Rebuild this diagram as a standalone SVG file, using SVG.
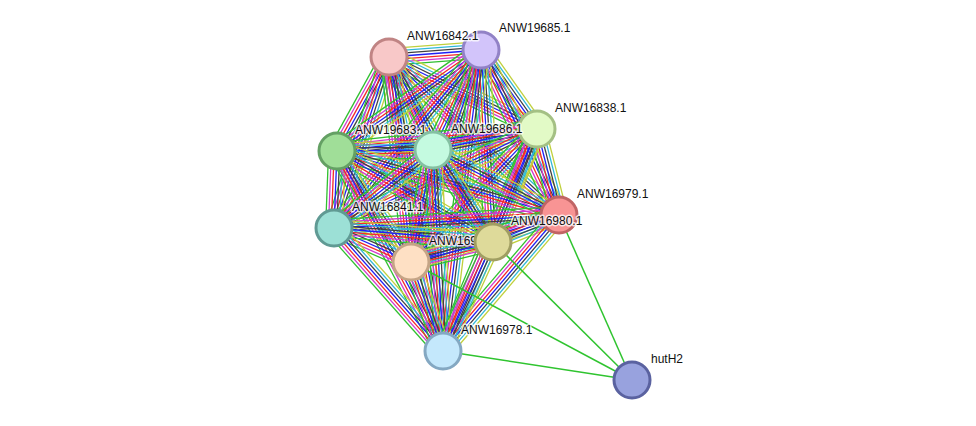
<svg xmlns="http://www.w3.org/2000/svg" xmlns:xlink="http://www.w3.org/1999/xlink" width="976" height="426" viewBox="0 0 976 426">
<style>
.b line{vector-effect:non-scaling-stroke;stroke-width:1.3;fill:none}
.k{stroke:#2fc42f;stroke-width:1.5;fill:none}
.n circle{stroke-width:3}
.n text{font-family:"Liberation Sans",Arial,sans-serif;font-size:12px;fill:#111;stroke:rgba(255,255,255,0.75);stroke-width:3;paint-order:stroke;stroke-linejoin:round}
</style>
<defs>
<g id="bundle" class="b">
<line x1="0" y1="-8.4" x2="1" y2="-8.4" stroke="#c0d03c"/>
<line x1="0" y1="-5.6" x2="1" y2="-5.6" stroke="#30b8d8"/>
<line x1="0" y1="-2.8" x2="1" y2="-2.8" stroke="#404040"/>
<line x1="0" y1="0" x2="1" y2="0" stroke="#2020f4"/>
<line x1="0" y1="2.8" x2="1" y2="2.8" stroke="#f42828"/>
<line x1="0" y1="5.6" x2="1" y2="5.6" stroke="#d038d0"/>
<line x1="0" y1="8.4" x2="1" y2="8.4" stroke="#30c030"/>
</g>
</defs>
<rect width="976" height="426" fill="#fff"/>
<g id="edges">
<use xlink:href="#bundle" transform="translate(389 57) rotate(-4.35) scale(92.27 1)"/>
<use xlink:href="#bundle" transform="translate(389 57) rotate(25.94) scale(164.6 1)"/>
<use xlink:href="#bundle" transform="translate(389 57) rotate(118.95) scale(107.4 1)"/>
<use xlink:href="#bundle" transform="translate(389 57) rotate(64.68) scale(102.9 1)"/>
<use xlink:href="#bundle" transform="translate(389 57) rotate(42.91) scale(232.1 1)"/>
<use xlink:href="#bundle" transform="translate(389 57) rotate(107.83) scale(179.6 1)"/>
<use xlink:href="#bundle" transform="translate(389 57) rotate(83.87) scale(206.2 1)"/>
<use xlink:href="#bundle" transform="translate(389 57) rotate(60.65) scale(212.2 1)"/>
<use xlink:href="#bundle" transform="translate(389 57) rotate(79.59) scale(298.9 1)"/>
<use xlink:href="#bundle" transform="translate(481 50) rotate(54.67) scale(96.8 1)"/>
<use xlink:href="#bundle" transform="translate(481 50) rotate(144.96) scale(175.9 1)"/>
<use xlink:href="#bundle" transform="translate(481 50) rotate(115.64) scale(110.9 1)"/>
<use xlink:href="#bundle" transform="translate(481 50) rotate(64.70) scale(182.5 1)"/>
<use xlink:href="#bundle" transform="translate(481 50) rotate(129.56) scale(230.9 1)"/>
<use xlink:href="#bundle" transform="translate(481 50) rotate(108.28) scale(223.3 1)"/>
<use xlink:href="#bundle" transform="translate(481 50) rotate(86.42) scale(192.4 1)"/>
<use xlink:href="#bundle" transform="translate(481 50) rotate(97.20) scale(303.4 1)"/>
<use xlink:href="#bundle" transform="translate(537 129) rotate(173.72) scale(201.2 1)"/>
<use xlink:href="#bundle" transform="translate(537 129) rotate(168.58) scale(106.1 1)"/>
<use xlink:href="#bundle" transform="translate(537 129) rotate(75.65) scale(88.8 1)"/>
<use xlink:href="#bundle" transform="translate(537 129) rotate(154.00) scale(225.9 1)"/>
<use xlink:href="#bundle" transform="translate(537 129) rotate(133.45) scale(183.2 1)"/>
<use xlink:href="#bundle" transform="translate(537 129) rotate(111.27) scale(121.3 1)"/>
<use xlink:href="#bundle" transform="translate(537 129) rotate(112.95) scale(241.1 1)"/>
<use xlink:href="#bundle" transform="translate(337 151) rotate(-0.60) scale(96 1)"/>
<use xlink:href="#bundle" transform="translate(337 151) rotate(16.08) scale(231 1)"/>
<use xlink:href="#bundle" transform="translate(337 151) rotate(92.23) scale(77.06 1)"/>
<use xlink:href="#bundle" transform="translate(337 151) rotate(56.31) scale(133.4 1)"/>
<use xlink:href="#bundle" transform="translate(337 151) rotate(30.26) scale(180.6 1)"/>
<use xlink:href="#bundle" transform="translate(337 151) rotate(62.08) scale(226.4 1)"/>
<use xlink:href="#bundle" transform="translate(433 150) rotate(27.29) scale(141.8 1)"/>
<use xlink:href="#bundle" transform="translate(433 150) rotate(141.77) scale(126 1)"/>
<use xlink:href="#bundle" transform="translate(433 150) rotate(101.11) scale(114.1 1)"/>
<use xlink:href="#bundle" transform="translate(433 150) rotate(56.89) scale(109.8 1)"/>
<use xlink:href="#bundle" transform="translate(433 150) rotate(87.15) scale(201.2 1)"/>
<use xlink:href="#bundle" transform="translate(559 215) rotate(176.69) scale(225.4 1)"/>
<use xlink:href="#bundle" transform="translate(559 215) rotate(162.38) scale(155.3 1)"/>
<use xlink:href="#bundle" transform="translate(559 215) rotate(157.75) scale(71.3 1)"/>
<use xlink:href="#bundle" transform="translate(559 215) rotate(130.46) scale(178.8 1)"/>
<use xlink:href="#bundle" transform="translate(334 228) rotate(23.83) scale(84.2 1)"/>
<use xlink:href="#bundle" transform="translate(334 228) rotate(5.03) scale(159.6 1)"/>
<use xlink:href="#bundle" transform="translate(334 228) rotate(48.45) scale(164.3 1)"/>
<use xlink:href="#bundle" transform="translate(411 262) rotate(-13.71) scale(84.4 1)"/>
<use xlink:href="#bundle" transform="translate(411 262) rotate(70.22) scale(94.6 1)"/>
<use xlink:href="#bundle" transform="translate(493 242) rotate(114.64) scale(119.9 1)"/>
<line class="k" x1="443" y1="351" x2="632" y2="380"/>
<line class="k" x1="411" y1="262" x2="632" y2="380"/>
<line class="k" x1="493" y1="242" x2="632" y2="380"/>
<line class="k" x1="559" y1="215" x2="632" y2="380"/>
</g>
<g id="ANW19685.1" class="n"><circle cx="481" cy="50" r="18" fill="#d2c4fa" stroke="#9282c6"/><text x="499" y="32">ANW19685.1</text></g>
<g id="ANW16842.1" class="n"><circle cx="389" cy="57" r="18" fill="#f8c8c8" stroke="#c08484"/><text x="407" y="40">ANW16842.1</text></g>
<g id="ANW16838.1" class="n"><circle cx="537" cy="129" r="18" fill="#e2fac6" stroke="#a4c084"/><text x="555" y="112">ANW16838.1</text></g>
<g id="ANW19683.1" class="n"><circle cx="337" cy="151" r="18" fill="#a0de98" stroke="#64a064"/><text x="355" y="134">ANW19683.1</text></g>
<g id="ANW19686.1" class="n"><circle cx="433" cy="150" r="18" fill="#c4fae0" stroke="#84c0a2"/><text x="451" y="133">ANW19686.1</text></g>
<g id="ANW16979.1" class="n"><circle cx="559" cy="215" r="18" fill="#f89494" stroke="#c06464"/><text x="577" y="198">ANW16979.1</text></g>
<g id="ANW16841.1" class="n"><circle cx="334" cy="228" r="18" fill="#9ce0d6" stroke="#609a94"/><text x="352" y="211">ANW16841.1</text></g>
<g id="ANW16981.1" class="n"><circle cx="411" cy="262" r="18" fill="#fee0c4" stroke="#c4a486"/><text x="429" y="245">ANW16981.1</text></g>
<g id="ANW16980.1" class="n"><circle cx="493" cy="242" r="18" fill="#deda9a" stroke="#a09e62"/><text x="511" y="225">ANW16980.1</text></g>
<g id="ANW16978.1" class="n"><circle cx="443" cy="351" r="18" fill="#c4e8fc" stroke="#84a8c2"/><text x="461" y="334">ANW16978.1</text></g>
<g id="hutH2" class="n"><circle cx="632" cy="380" r="18" fill="#98a2de" stroke="#5a62a0"/><text x="651" y="363">hutH2</text></g>
</svg>
